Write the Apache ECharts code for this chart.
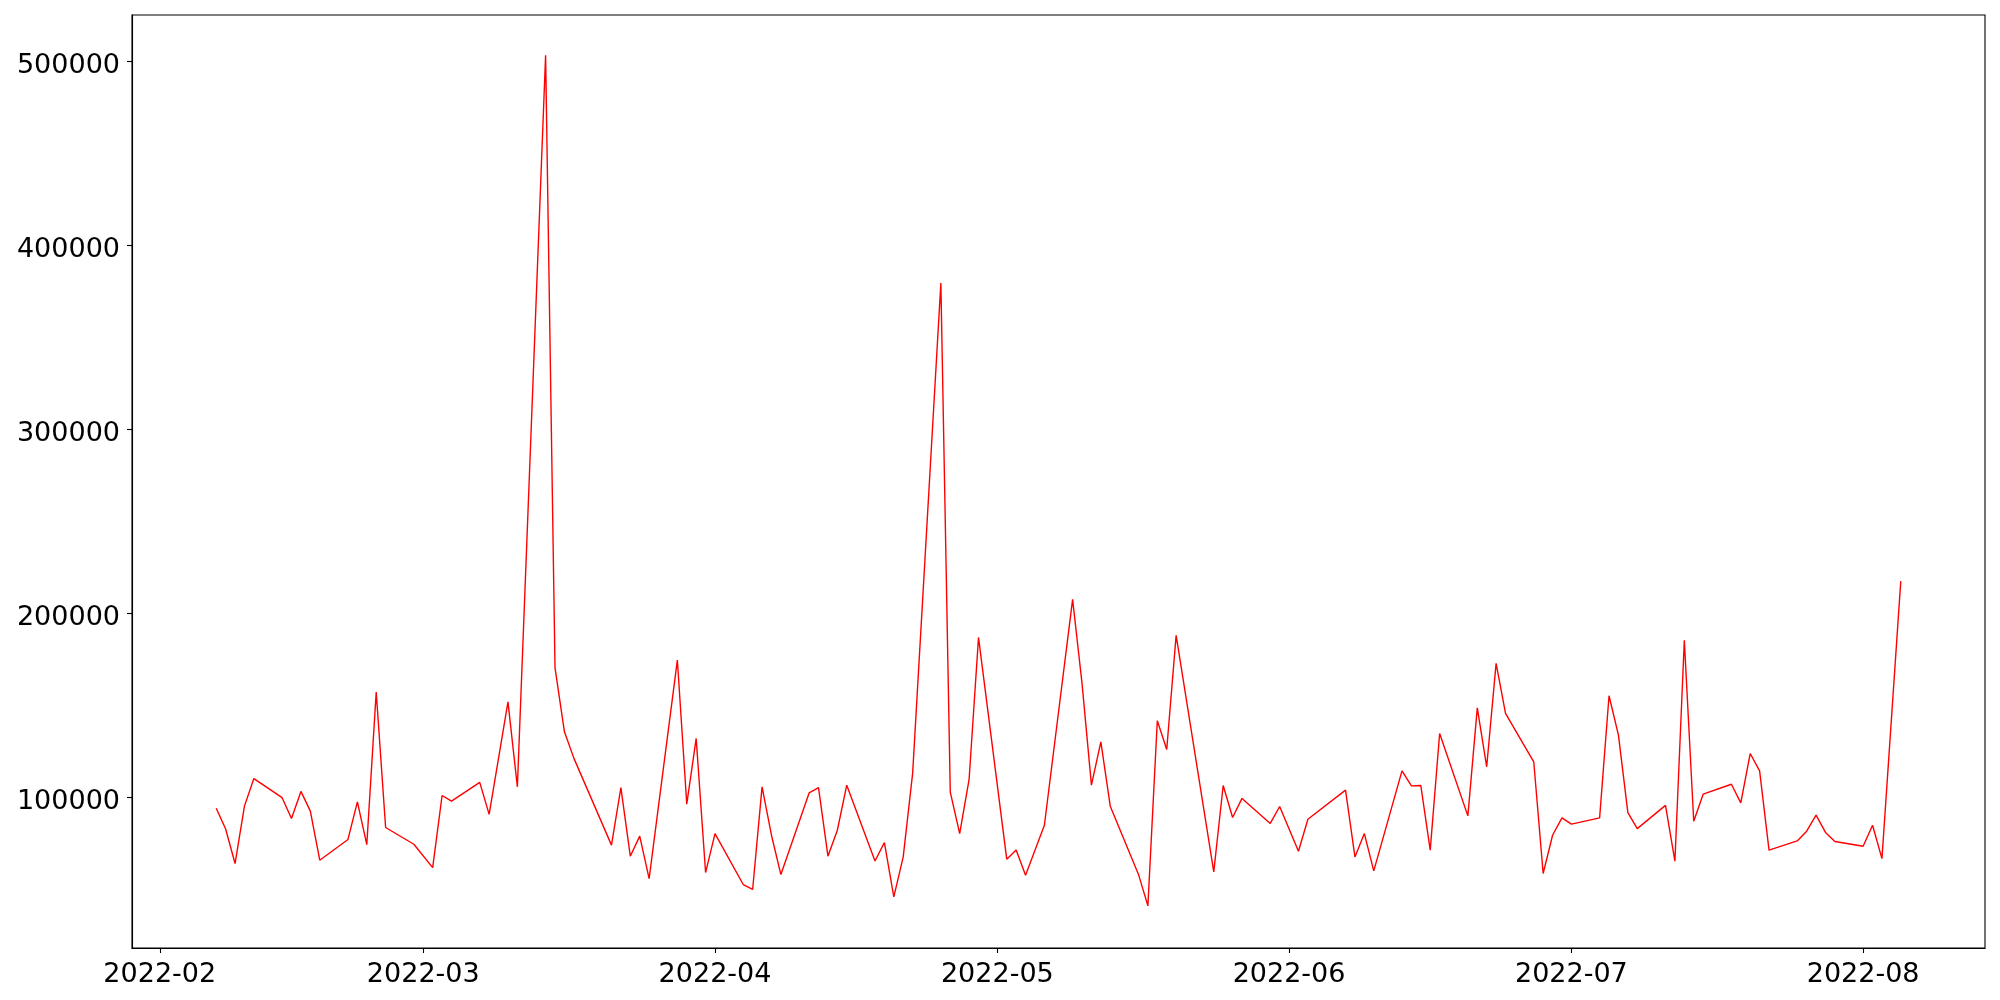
<!DOCTYPE html>
<html>
<head>
<meta charset="utf-8">
<script src="https://cdn.jsdelivr.net/npm/echarts@6/dist/echarts.min.js"></script>
<style>
html,body{margin:0;padding:0;background:#fff;}
#chart{width:2000px;height:1000px;}
</style>
</head>
<body>
<div id="chart"></div>
<script>
const dates = [
'2022-02-07','2022-02-08','2022-02-09','2022-02-10','2022-02-11',
'2022-02-14','2022-02-15','2022-02-16','2022-02-17','2022-02-18',
'2022-02-21','2022-02-22','2022-02-23','2022-02-24','2022-02-25',
'2022-02-28','2022-03-02','2022-03-03','2022-03-04',
'2022-03-07','2022-03-08','2022-03-10','2022-03-11',
'2022-03-14','2022-03-15','2022-03-16','2022-03-17',
'2022-03-21','2022-03-22','2022-03-23','2022-03-24','2022-03-25',
'2022-03-28','2022-03-29','2022-03-30','2022-03-31','2022-04-01',
'2022-04-04','2022-04-05','2022-04-06','2022-04-07','2022-04-08',
'2022-04-11','2022-04-12','2022-04-13','2022-04-14','2022-04-15',
'2022-04-18','2022-04-19','2022-04-20','2022-04-21','2022-04-22',
'2022-04-25','2022-04-26','2022-04-27','2022-04-28','2022-04-29',
'2022-05-02','2022-05-03','2022-05-04','2022-05-06',
'2022-05-09','2022-05-10','2022-05-11','2022-05-12','2022-05-13',
'2022-05-16','2022-05-17','2022-05-18','2022-05-19','2022-05-20',
'2022-05-24','2022-05-25','2022-05-26','2022-05-27',
'2022-05-30','2022-05-31','2022-06-02','2022-06-03',
'2022-06-07','2022-06-08','2022-06-09','2022-06-10',
'2022-06-13','2022-06-14','2022-06-15','2022-06-16','2022-06-17',
'2022-06-20','2022-06-21','2022-06-22','2022-06-23','2022-06-24',
'2022-06-27','2022-06-28','2022-06-29','2022-06-30','2022-07-01',
'2022-07-04','2022-07-05','2022-07-06','2022-07-07','2022-07-08',
'2022-07-11','2022-07-12','2022-07-13','2022-07-14','2022-07-15',
'2022-07-18','2022-07-19','2022-07-20','2022-07-21','2022-07-22',
'2022-07-25','2022-07-26','2022-07-27','2022-07-28','2022-07-29',
'2022-08-01','2022-08-02','2022-08-03','2022-08-05'
];
const values = [
94300,83000,64200,95400,110400,
100000,88700,103400,92700,66000,
77300,97700,74500,157400,83800,
74700,62000,101200,98100,
108300,90900,152100,105900,
503500,170600,135800,121500,
74200,105500,68200,79100,56000,
174800,96500,132200,59300,80500,
52800,50100,105900,79600,58200,
102600,105500,68200,82300,106800,
65600,75600,46100,67800,113200,
379700,103000,80500,109900,187100,
66600,71500,57900,85000,
207800,162100,106800,130300,95400,
58300,41200,141800,126200,188200,
59700,106600,89200,99600,
86000,95200,70900,88300,
104100,67800,80500,60200,
114600,106400,106600,71500,134900,
90100,148800,116800,173000,145800,
119500,58800,79600,89000,85600,
89000,155400,134000,91900,83200,
95800,65500,185600,87200,101900,
107300,97200,124000,114600,71500,
76500,81800,90500,81100,76200,
73600,85000,66900,217700
];
const xTickDates = ['2022-02-01','2022-03-01','2022-04-01','2022-05-01','2022-06-01','2022-07-01','2022-08-01'];
const yTicks = [100000,200000,300000,400000,500000];

function ts(s){const p=s.split('-').map(Number);return Date.UTC(p[0],p[1]-1,p[2]);}
const seriesData = dates.map((d,i)=>[ts(d), values[i]]);
const first = ts(dates[0]), last = ts(dates[dates.length-1]);
const pad = (last-first)*0.05;
const xTicks = xTickDates.map(ts);

const font = {fontFamily:'DejaVu Sans', fontSize:27, color:'#000'};

const chart = echarts.init(document.getElementById('chart'), null, {renderer:'canvas'});
chart.setOption({
  animation:false,
  backgroundColor:'#fff',
  grid:{left:132, right:15, top:15, bottom:52, show:true, borderColor:'#000', borderWidth:1.1, backgroundColor:'transparent'},
  xAxis:{
    type:'value',
    min:first-pad, max:last+pad,
    axisLine:{show:true, lineStyle:{color:'#000', width:1.1}},
    axisTick:{show:true, length:5, lineStyle:{color:'#000', width:1.1}, customValues:xTicks},
    axisLabel:Object.assign({margin:13, customValues:xTicks, formatter:function(v){
      const d=new Date(v); const m=d.getUTCMonth()+1; return d.getUTCFullYear()+'-'+(m<10?'0':'')+m;
    }}, font),
    splitLine:{show:false}
  },
  yAxis:{
    type:'value',
    min:18300, max:525400,
    axisLine:{show:true, lineStyle:{color:'#000', width:1.1}},
    axisTick:{show:true, length:5, lineStyle:{color:'#000', width:1.1}, customValues:yTicks},
    axisLabel:Object.assign({margin:12, customValues:yTicks, verticalAlign:'top', lineHeight:8, formatter:function(v){return String(Math.round(v));}}, font),
    splitLine:{show:false}
  },
  series:[{
    type:'line',
    data:seriesData,
    showSymbol:false,
    symbol:'none',
    lineStyle:{color:'#ff0000', width:1.4},
    itemStyle:{color:'#ff0000'}
  }]
});
</script>
</body>
</html>
